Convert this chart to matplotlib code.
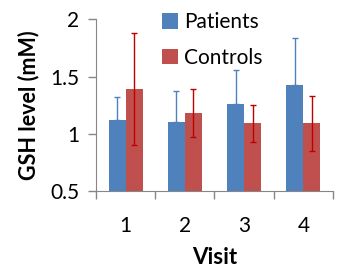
import numpy as np
import matplotlib
matplotlib.use('Agg')
import matplotlib.pyplot as plt
from matplotlib.ticker import FixedLocator

plt.rcParams['font.family'] = ['Lato', 'DejaVu Sans']

# data
visits = ['1', '2', '3', '4']
patients = [1.12, 1.10, 1.26, 1.43]
patients_err = [0.20, 0.27, 0.30, 0.41]
controls = [1.39, 1.18, 1.09, 1.09]
controls_err = [0.49, 0.21, 0.16, 0.24]

blue = '#4F81BD'
red = '#C0504D'
gray = '#868686'

fig = plt.figure(figsize=(3.41, 2.69), dpi=100)
ax = fig.add_axes([0.2815, 0.29, 0.695, 0.638])

x = np.arange(1, len(visits) + 1)
w = 0.285

ax.bar(x - w/2, patients, w, color=blue, label='Patients', zorder=2)
ax.bar(x + w/2, controls, w, color=red, label='Controls', zorder=2)
ax.errorbar(x - w/2, patients, yerr=[np.zeros(len(patients)), patients_err],
            fmt='none', ecolor=blue, elinewidth=1, capsize=2.5, capthick=1, zorder=3)
ax.errorbar(x + w/2, controls, yerr=controls_err,
            fmt='none', ecolor='#C00000', elinewidth=1, capsize=2.5, capthick=1, zorder=3)

ax.set_ylim(0.5, 2)
ax.set_xlim(0.5, 4.5)
ax.set_yticks([0.5, 1, 1.5, 2])
ax.set_yticklabels(['0.5', '1', '1.5', '2'])

# boundary ticks on the category axis, labels in the middle
ax.xaxis.set_major_locator(FixedLocator([0.5, 1.5, 2.5, 3.5, 4.5]))
ax.xaxis.set_minor_locator(FixedLocator(x))
ax.set_xticklabels([])
ax.set_xticklabels(visits, minor=True)
ax.tick_params(axis='x', which='major', length=6, color=gray, width=1)
ax.tick_params(axis='x', which='minor', length=0, labelsize=15, pad=18)
ax.tick_params(axis='y', length=6, color=gray, width=1, labelsize=15, pad=6)

for s in ['top', 'right']:
    ax.spines[s].set_visible(False)
for s in ['left', 'bottom']:
    ax.spines[s].set_color(gray)

ax.set_xlabel('Visit', fontsize=16, fontweight='bold', labelpad=8)
ax.set_ylabel('GSH level (mM)', fontsize=15.5, fontweight='bold', labelpad=8)

ax.legend(loc='upper left', bbox_to_anchor=(0.2, 1.15), frameon=False,
          fontsize=15, handlelength=0.75, handleheight=0.75, handletextpad=0.3,
          labelspacing=0.75)

fig.savefig('out.png', dpi=100)
